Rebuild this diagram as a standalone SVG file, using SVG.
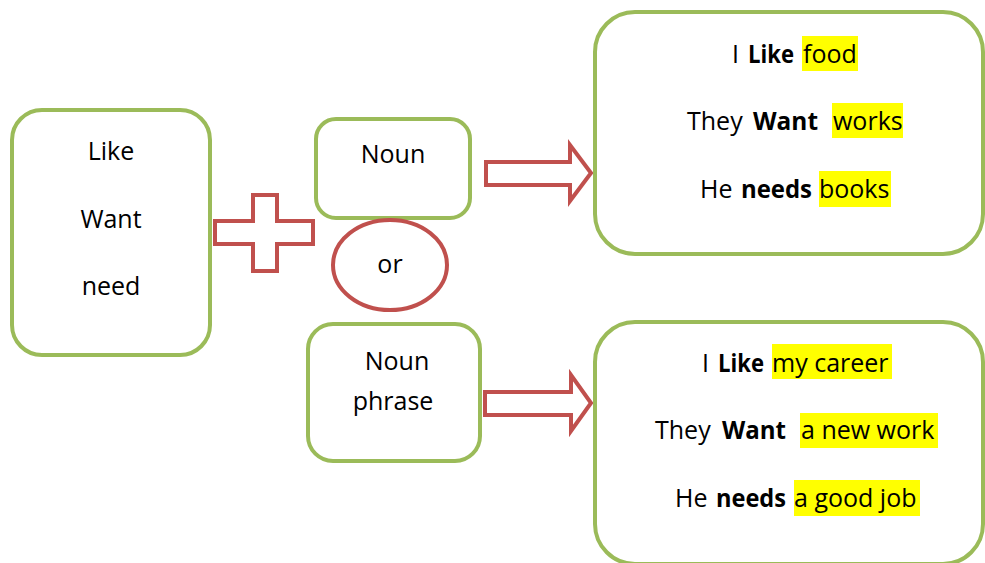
<svg xmlns="http://www.w3.org/2000/svg" width="985" height="563" viewBox="0 0 985 563">
<style>
.box{fill:#fff;stroke:#9BBB59;stroke-width:4}
.red{fill:#fff;stroke:#C0504D;stroke-width:4;stroke-linejoin:miter}
text{font-family:"Open Sans","Liberation Sans",sans-serif;font-size:25px;fill:#000}
.c{text-anchor:middle}
.b{font-weight:bold}
.hl{fill:#FFFF00}
</style>
<rect width="985" height="563" fill="#fff"/>
<g id="connectors">
<path class="red" d="M215,221 H253 V195 H277 V221 H313 V244 H277 V271 H253 V244 H215 Z"/>
<path class="red" d="M486,162 H570 V145 L591,173 L570,201 V185 H486 Z"/>
<path class="red" d="M485,392 H571 V375 L591,403 L571,431 V415 H485 Z"/>
</g>
<g id="verbs">
<rect class="box" x="12" y="110" width="198" height="245" rx="30"/>
<text class="c" x="111" y="160">Like</text>
<text class="c" x="111" y="228">Want</text>
<text class="c" x="111" y="295">need</text>
</g>
<g id="noun">
<rect class="box" x="316" y="119" width="154" height="99" rx="20"/>
<text class="c" x="393" y="163">Noun</text>
</g>
<g id="or">
<ellipse class="red" cx="390" cy="265" rx="57" ry="45"/>
<text class="c" x="390" y="273">or</text>
</g>
<g id="nounphrase">
<rect class="box" x="308" y="324" width="172" height="137" rx="25"/>
<text class="c" x="397" y="370">Noun</text>
<text class="c" x="393" y="410">phrase</text>
</g>
<g id="examples-noun">
<rect class="box" x="595" y="12" width="388" height="242" rx="40"/>
<rect class="hl" x="802" y="36" width="56" height="35"/>
<rect class="hl" x="832" y="103" width="71" height="35"/>
<rect class="hl" x="819" y="171" width="72" height="36"/>
<text x="732" y="63">I</text>
<text class="b" x="748" y="63" textLength="46" lengthAdjust="spacingAndGlyphs">Like</text>
<text x="803" y="63">food</text>
<text x="687" y="130">They</text>
<text class="b" x="753" y="130" textLength="65" lengthAdjust="spacingAndGlyphs">Want</text>
<text x="833" y="130">works</text>
<text x="700" y="198">He</text>
<text class="b" x="741" y="198" textLength="71" lengthAdjust="spacingAndGlyphs">needs</text>
<text x="819" y="198">books</text>
</g>
<g id="examples-phrase">
<rect class="box" x="595" y="322" width="388" height="242" rx="40"/>
<rect class="hl" x="772" y="344" width="120" height="35"/>
<rect class="hl" x="800" y="413" width="138" height="35"/>
<rect class="hl" x="794" y="480" width="126" height="36"/>
<text x="702" y="372">I</text>
<text class="b" x="718" y="372" textLength="46" lengthAdjust="spacingAndGlyphs">Like</text>
<text x="772" y="372">my career</text>
<text x="655" y="439">They</text>
<text class="b" x="722" y="439" textLength="64" lengthAdjust="spacingAndGlyphs">Want</text>
<text x="801" y="439">a new work</text>
<text x="675" y="507">He</text>
<text class="b" x="716" y="507" textLength="70" lengthAdjust="spacingAndGlyphs">needs</text>
<text x="794" y="507">a good job</text>
</g>
</svg>
